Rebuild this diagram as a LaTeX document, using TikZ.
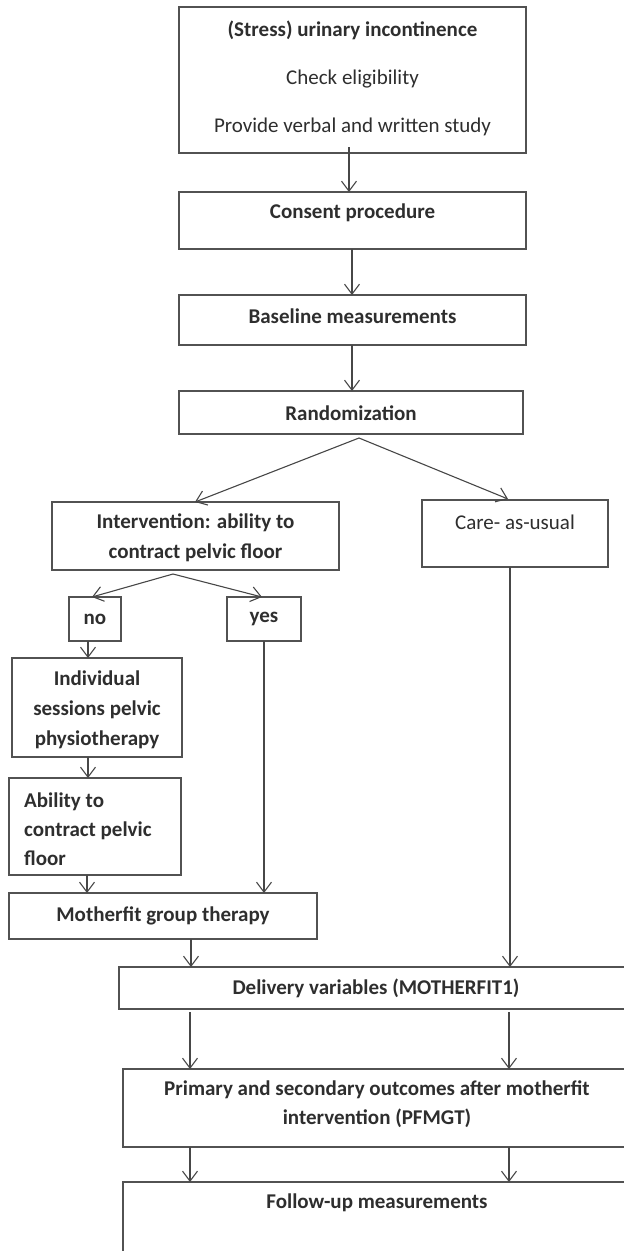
\documentclass[tikz,border=0pt]{standalone}
\usepackage{fontspec}
\setmainfont{Carlito}
\usetikzlibrary{arrows.meta}
\begin{document}
\begin{tikzpicture}[x=1pt,y=-1pt,
  box/.style={draw=black!68, line width=1.1pt, inner sep=0pt, outer sep=0pt, rectangle},
  txt/.style={text=black!82, font=\fontsize{21}{30}\selectfont\bfseries, inner sep=0pt, align=center},
  txtr/.style={text=black!82, font=\fontsize{21}{30}\selectfont, inner sep=0pt, align=center},
  arr/.style={draw=black!72, line width=1.1pt, -{Straight Barb[length=10pt,width=15pt]}}]
\useasboundingbox (0,0) rectangle (624,1251);
\clip (0,0) rectangle (624,1251);
% x positions for connectors
\foreach \n/\v in {a/349,b/352,c/359,d/195,e/508,f/173,g/92,h/262,i/88,j/87,k/510,l/191,m/190,n/509}
  \coordinate (x\n) at (\v,0);
% boxes
\node[box, minimum width=347, minimum height=146] (b1) at (352.5,80) {};
\node[box, minimum width=347, minimum height=57] (b2) at (352.5,220.5) {};
\node[box, minimum width=347, minimum height=50] (b3) at (352.5,320) {};
\node[box, minimum width=344, minimum height=43] (b4) at (351,412.5) {};
\node[box, minimum width=287, minimum height=68] (b5) at (195.5,536) {};
\node[box, minimum width=186, minimum height=67] (b6) at (515,533.5) {};
\node[box, minimum width=52, minimum height=44] (no) at (95,619) {};
\node[box, minimum width=74, minimum height=44] (yes) at (264,619) {};
\node[box, minimum width=170, minimum height=99] (b7) at (97,707.5) {};
\node[box, minimum width=172, minimum height=97] (b8) at (95,826.5) {};
\node[box, minimum width=308, minimum height=46] (b9) at (163,916) {};
\node[box, minimum width=521, minimum height=42] (b10) at (379.5,988) {};
\node[box, minimum width=517, minimum height=78] (b11) at (381.5,1108) {};
\node[box, minimum width=517, minimum height=88] (b12) at (381.5,1226) {};
% texts
\node[txt] (t1a) at (352.5,30) {(Stress) urinary incontinence};
\node[txtr] (t1b) at (352.5,79) {Check eligibility};
\node[txtr] (t1c) at (352.5,127) {Provide verbal and written study};
\node[txt] (t2) at (352.5,213) {Consent procedure};
\node[txt] (t3) at (352.5,316) {Baseline measurements};
\node[txt] (t4) at (351,413) {Randomization};
\node[txt] (t5) at (195.5,538) {Intervention: ability to\\contract pelvic floor};
\node[txtr] (t6) at (515,522) {Care- as-usual};
\node[txt] (tno) at (95,619) {no};
\node[txt] (tyes) at (264,619) {yes};
\node[txt] (t7) at (97,710) {Individual\\sessions pelvic\\physiotherapy};
\node[txt, align=left, anchor=west, font=\fontsize{21}{29}\selectfont\bfseries] (t8) at (24,829) {Ability to\\contract pelvic\\floor};
\node[txt] (t9) at (163,916) {Motherfit group therapy};
\node[txt] (t10) at (376,988) {Delivery variables (MOTHERFIT1)};
\node[txt, font=\fontsize{21}{29}\selectfont\bfseries] (t11) at (377,1104.5) {Primary and secondary outcomes after motherfit\\intervention (PFMGT)};
\node[txt] (t12) at (377,1203) {Follow-up measurements};
% connectors
\draw[arr] ([yshift=6pt]b1.south -| xa) -- (b2.north -| xa);
\draw[arr] (b2.south -| xb) -- (b3.north -| xb);
\draw[arr] (b3.south -| xb) -- (b4.north -| xb);
\draw[arr] ([yshift=-4pt]b4.south -| xc) -- (b5.north -| xd);
\draw[arr] ([yshift=-4pt]b4.south -| xc) -- ([yshift=1pt]b6.north -| xe);
\draw[arr] ([yshift=-4pt]b5.south -| xf) -- (no.north -| xg);
\draw[arr] ([yshift=-4pt]b5.south -| xf) -- (yes.north -| xh);
\draw[arr] (no.south -| xi) -- (b7.north -| xi);
\draw[arr] (b7.south -| xi) -- (b8.north -| xi);
\draw[arr] (b8.south -| xj) -- (b9.north -| xj);
\draw[arr] (yes.south) -- (b9.north -| yes.south);
\draw[arr] (b6.south -| xk) -- (b10.north -| xk);
\draw[arr] (b9.south -| xl) -- (b10.north -| xl);
\draw[arr] ([yshift=-3pt]b10.south -| xm) -- (b11.north -| xm);
\draw[arr] ([yshift=-3pt]b10.south -| xn) -- (b11.north -| xn);
\draw[arr] (b11.south -| xm) -- (b12.north -| xm);
\draw[arr] (b11.south -| xn) -- (b12.north -| xn);
\end{tikzpicture}
\end{document}
